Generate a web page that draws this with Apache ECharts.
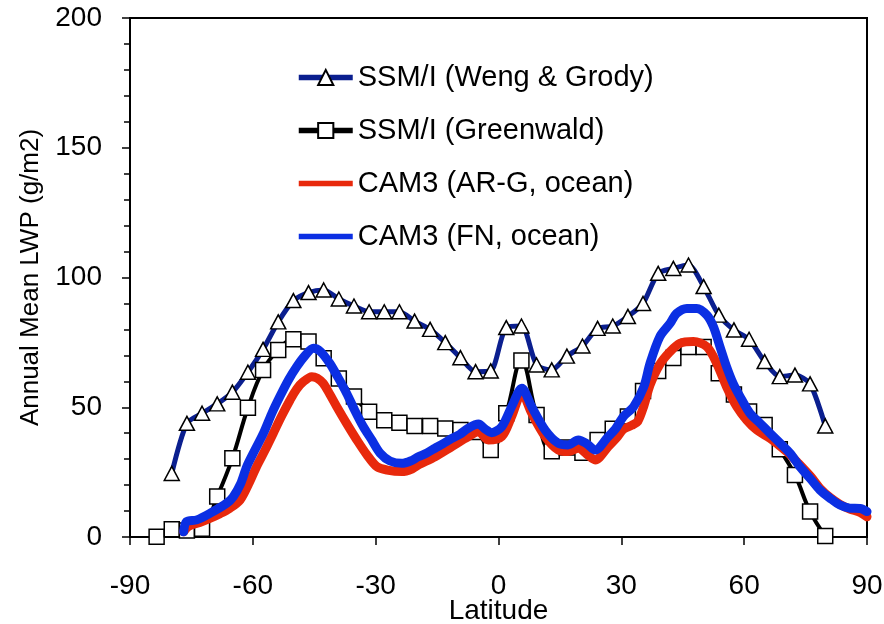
<!DOCTYPE html>
<html>
<head>
<meta charset="utf-8">
<script src="https://cdn.jsdelivr.net/npm/echarts@6/dist/echarts.min.js"></script>
<style>
html,body{margin:0;padding:0;background:#fff;}
#chart{width:884px;height:624px;}
</style>
</head>
<body>
<div id="chart"></div>
<script>
// ---- Data ----
const seriesNames = ['SSM/I (Weng & Grody)', 'SSM/I (Greenwald)', 'CAM3 (AR-G, ocean)', 'CAM3 (FN, ocean)'];

const latWeng = [-79.8,-76.1,-72.4,-68.7,-65.0,-61.2,-57.5,-53.8,-50.1,-46.4,-42.7,-39.0,-35.3,-31.6,-27.9,-24.2,-20.5,-16.7,-13.0,-9.3,-5.6,-1.9,1.9,5.6,9.3,13.0,16.7,20.5,24.2,27.9,31.6,35.3,39.0,42.7,46.4,50.1,53.8,57.5,61.2,65.0,68.7,72.4,76.1,79.8];
const lwpWeng = [24.5,43.8,47.7,51.3,55.8,63.5,72.3,82.9,91.1,94.2,95.2,91.7,89.0,86.8,86.8,86.8,83.2,80.0,74.9,69.1,63.7,64.0,80.7,81.3,66.3,64.4,69.7,73.6,80.4,81.3,85.0,90.0,101.6,103.5,104.8,96.5,85.5,79.8,76.2,67.6,61.8,62.4,59.0,42.8];

const latGreen = [-83.5,-79.8,-76.1,-72.4,-68.7,-65.0,-61.2,-57.5,-53.8,-50.1,-46.4,-42.7,-39.0,-35.3,-31.6,-27.9,-24.2,-20.5,-16.7,-13.0,-9.3,-5.6,-1.9,1.9,5.6,9.3,13.0,16.7,20.5,24.2,27.9,31.6,35.3,39.0,42.7,46.4,50.1,53.8,57.5,61.2,65.0,68.7,72.4,76.1,79.8];
const lwpGreen = [0.1,3.0,2.5,3.2,15.6,30.3,49.8,64.4,72.1,76.2,75.3,68.9,61.1,54.1,48.3,45.0,44.0,42.8,42.8,41.8,41.2,40.5,33.5,47.7,68.0,47.0,33.0,34.5,32.5,37.4,41.7,46.4,56.3,64.0,69.0,73.2,73.2,63.1,54.9,48.4,43.2,33.8,23.9,9.8,0.4];

const latARG = [-76.9,-75.8,-73.0,-70.5,-68.0,-65.6,-63.1,-61.0,-59.1,-57.0,-55.0,-53.0,-50.9,-49.3,-47.7,-45.6,-44.3,-42.8,-41.2,-39.5,-37.0,-34.6,-32.2,-29.7,-27.2,-23.6,-21.0,-19.6,-15.5,-11.4,-8.1,-4.9,-2.5,0.8,3.2,5.7,8.1,11.4,14.6,17.0,19.5,21.5,23.6,26.8,29.0,30.5,32.5,34.0,35.5,37.0,39.4,41.9,44.3,47.6,50.9,53.3,55.7,58.2,60.6,63.1,66.3,67.9,70.5,73.0,76.3,78.5,81.0,83.4,85.8,88.3,90.0];
const lwpARG = [2.0,4.0,5.6,7.2,9.0,11.1,14.3,20.5,27.1,33.5,40.0,46.5,52.8,57.0,59.8,61.8,61.2,59.2,55.0,50.2,43.5,37.4,31.8,27.1,25.8,25.2,26.3,27.7,30.9,34.8,38.0,40.6,37.4,38.7,46.4,55.4,47.7,38.7,33.5,32.9,34.2,32.0,29.7,34.8,38.5,41.5,43.0,44.5,50.5,58.5,66.5,71.4,74.6,75.3,73.3,66.9,57.9,50.2,45.1,41.2,38.0,36.1,32.8,28.8,23.2,18.8,15.2,12.6,10.8,9.5,7.8];

const latFN = [-76.9,-76.2,-73.7,-70.5,-66.4,-64.8,-63.0,-61.5,-59.5,-57.4,-55.4,-53.4,-51.3,-49.3,-47.2,-45.2,-43.5,-41.2,-39.2,-37.1,-35.0,-33.0,-31.0,-28.9,-26.5,-23.6,-21.5,-19.6,-17.5,-15.5,-13.5,-11.4,-9.5,-7.4,-4.9,-3.2,-1.7,0.8,3.2,5.7,8.1,11.4,14.6,17.0,19.5,21.5,23.6,26.8,28.5,30.5,33.0,35.5,37.0,39.4,41.9,43.5,46.0,48.4,50.9,52.5,54.1,55.7,57.3,59.0,61.4,63.9,66.3,68.8,71.2,73.6,76.1,78.5,81.0,83.4,85.8,88.3,90.0];
const lwpFN = [2.0,5.9,6.6,9.1,13.0,15.5,20.5,27.1,33.5,40.0,47.5,54.1,60.5,65.6,70.0,72.7,71.5,66.9,61.5,55.4,48.5,42.5,37.5,32.3,29.3,28.4,29.3,30.9,32.4,34.2,36.0,38.0,39.5,41.9,43.5,41.5,40.2,42.5,50.2,57.3,50.2,41.2,36.1,35.5,37.4,36.0,33.5,38.7,41.5,46.4,50.2,57.9,66.9,77.2,82.3,86.2,88.1,88.1,85.5,81.0,73.3,65.6,59.2,54.1,47.7,43.8,40.0,36.1,32.3,27.1,22.6,18.1,14.9,12.3,11.1,11.0,9.8];

// axis ranges / tick steps
const xRange = [-90, 90], xStep = 30;
const yRange = [0, 200], yStep = 50;

const pairs = (xs, ys) => xs.map((x, i) => [x, ys[i]]);

const FONT = '"Liberation Sans", Arial, sans-serif';
const C_WENG = '#0b1f8f', C_ARG = '#e8290c', C_FN = '#0b2fe3';
const lineIcon = 'path://M0,0 L54,0 L54,5.5 L0,5.5 Z';

const chart = echarts.init(document.getElementById('chart'), null, {renderer: 'canvas'});

chart.setOption({
  animation: false,
  backgroundColor: '#fff',
  grid: {left: 130, right: 17, top: 18, bottom: 87, containLabel: false, outerBoundsMode: 'none',
         show: true, borderColor: '#000', borderWidth: 2, backgroundColor: 'transparent'},
  legend: {
    orient: 'vertical',
    left: 296, top: 63, padding: 0,
    itemWidth: 54, itemHeight: 19, itemGap: 24,
    data: [
      {name: seriesNames[0]},
      {name: seriesNames[1]},
      {name: seriesNames[2], icon: lineIcon},
      {name: seriesNames[3], icon: lineIcon}
    ],
    lineStyle: {width: 5.5},
    textStyle: {fontFamily: FONT, fontSize: 29, color: '#000'}
  },
  xAxis: {
    type: 'value', min: xRange[0], max: xRange[1], interval: xStep,
    name: 'Latitude', nameLocation: 'middle', nameGap: 60, nameMoveOverlap: false,
    nameTextStyle: {fontFamily: FONT, fontSize: 28, color: '#000'},
    axisLine: {onZero: false, lineStyle: {color: '#000', width: 2}},
    axisTick: {show: true, inside: false, length: 8, lineStyle: {color: '#000', width: 1.5}},
    axisLabel: {fontFamily: FONT, fontSize: 28, color: '#000', margin: 35},
    splitLine: {show: false}
  },
  yAxis: {
    type: 'value', min: yRange[0], max: yRange[1], interval: yStep,
    name: 'Annual Mean LWP (g/m2)', nameLocation: 'middle', nameGap: 86,
    nameTextStyle: {fontFamily: FONT, fontSize: 26, color: '#000'},
    axisLine: {show: true, onZero: false, lineStyle: {color: '#000', width: 2}},
    axisTick: {show: true, inside: false, length: 8, lineStyle: {color: '#000', width: 1.5}},
    minorTick: {show: true, splitNumber: 5, length: 6, lineStyle: {color: '#000', width: 1.5}},
    axisLabel: {fontFamily: FONT, fontSize: 28, color: '#000', margin: 28},
    splitLine: {show: false}
  },
  series: [
    {
      name: seriesNames[0], type: 'line', data: pairs(latWeng, lwpWeng), smooth: 0.25,
      symbol: 'triangle', symbolSize: [15, 14], showAllSymbol: true,
      lineStyle: {color: C_WENG, width: 5},
      itemStyle: {color: '#ffffff', borderColor: '#000', borderWidth: 1.5},
      z: 2
    },
    {
      name: seriesNames[1], type: 'line', data: pairs(latGreen, lwpGreen), smooth: 0.4,
      symbol: 'rect', symbolSize: 15, showAllSymbol: true,
      lineStyle: {color: '#000', width: 4},
      itemStyle: {color: '#ffffff', borderColor: '#000', borderWidth: 1.5},
      z: 3
    },
    {
      name: seriesNames[2], type: 'line', data: pairs(latARG, lwpARG), smooth: 0.3,
      symbol: 'none', showSymbol: false,
      lineStyle: {color: C_ARG, width: 9, cap: 'round', join: 'round'},
      itemStyle: {color: C_ARG},
      z: 4
    },
    {
      name: seriesNames[3], type: 'line', data: pairs(latFN, lwpFN), smooth: 0.3,
      symbol: 'none', showSymbol: false,
      lineStyle: {color: C_FN, width: 9, cap: 'round', join: 'round'},
      itemStyle: {color: C_FN},
      z: 5
    }
  ]
});
</script>
</body>
</html>
